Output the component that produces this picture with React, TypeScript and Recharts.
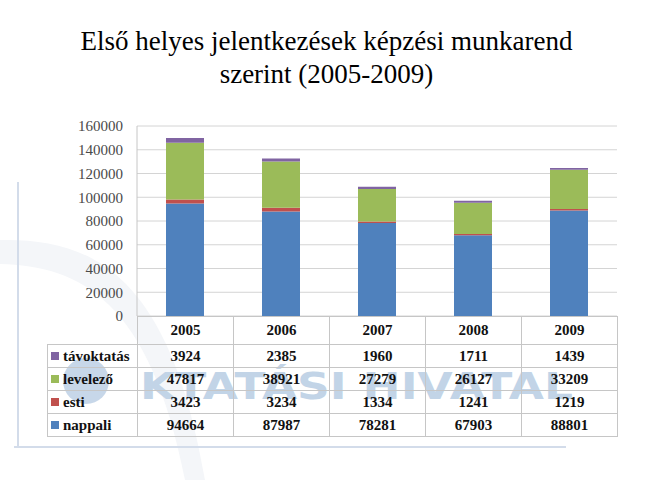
import { BarChart, Bar, XAxis, YAxis, CartesianGrid } from "recharts";

const years = ["2005", "2006", "2007", "2008", "2009"];
const nappali = [94664, 87987, 78281, 67903, 88801];
const esti = [3423, 3234, 1334, 1241, 1219];
const levelezo = [47817, 38921, 27279, 26127, 33209];
const tavoktatas = [3924, 2385, 1960, 1711, 1439];
const yTicks = [0, 20000, 40000, 60000, 80000, 100000, 120000, 140000, 160000];

const series = [
  { key: "nappali", label: "nappali", color: "#4f81bd", values: nappali },
  { key: "esti", label: "esti", color: "#c0504d", values: esti },
  { key: "levelezo", label: "levelező", color: "#9bbb59", values: levelezo },
  { key: "tavoktatas", label: "távoktatás", color: "#8064a2", values: tavoktatas },
];

const data = years.map((y, i) => ({
  year: y,
  nappali: nappali[i],
  esti: esti[i],
  levelezo: levelezo[i],
  tavoktatas: tavoktatas[i],
}));

const serif = "Liberation Serif";
const line = "1px solid #c6c6c6";

function DataTable() {
  const rows = [...series].reverse();
  const cell = { border: line, padding: 0, textAlign: "center" as const, width: 95, fontWeight: 700 };
  return (
    <table
      style={{
        position: "absolute",
        left: 47,
        top: 316,
        borderCollapse: "collapse",
        tableLayout: "fixed",
        fontFamily: serif,
        fontSize: 15,
        color: "#111",
        background: "transparent",
      }}
    >
      <tbody>
        <tr style={{ height: 28 }}>
          <td style={{ width: 89, padding: 0, borderRight: line, borderBottom: line }} />
          {years.map((y) => (
            <td key={y} style={cell}>{y}</td>
          ))}
        </tr>
        {rows.map((s) => (
          <tr key={s.key} style={{ height: 23 }}>
            <td style={{ border: line, padding: "0 0 0 3px", width: 86, fontWeight: 700, whiteSpace: "nowrap" }}>
              <span style={{ display: "inline-block", width: 8, height: 8, background: s.color, marginRight: 4, verticalAlign: 1 }} />
              {s.label}
            </td>
            {s.values.map((v, i) => (
              <td key={i} style={cell}>{v}</td>
            ))}
          </tr>
        ))}
      </tbody>
    </table>
  );
}

function Backdrop() {
  return (
    <svg width={653} height={492} style={{ position: "absolute", left: 0, top: 0 }}>
      <path d="M0 240 C 90 238, 170 272, 205 480 L 185 480 C 150 300, 80 266, 0 264 Z" fill="#f4f6f9" />
      <line x1={18} y1={182} x2={18} y2={447} stroke="#d3dcea" strokeWidth={2} />
      <line x1={14} y1={447} x2={566} y2={447} stroke="#d3dcea" strokeWidth={2} />
      <circle cx={86} cy={381} r={23} fill="#c7d7e9" />
      <text
        x={140}
        y={399}
        textLength={433}
        lengthAdjust="spacingAndGlyphs"
        fontFamily="DejaVu Sans"
        fontWeight={700}
        fontSize={38}
        fill="#c2d4e7"
      >
        KTATÁSI HIVATAL
      </text>
    </svg>
  );
}

export default function App() {
  return (
    <div style={{ position: "absolute", left: 0, top: 0, width: 653, height: 492, background: "#fff", overflow: "hidden" }}>
      <Backdrop />
      <div
        style={{
          position: "absolute",
          left: 0,
          top: 25,
          width: 653,
          textAlign: "center",
          fontFamily: serif,
          fontSize: 27,
          lineHeight: "33px",
          color: "#000",
        }}
      >
        Első helyes jelentkezések képzési munkarend
        <br />
        szerint (2005-2009)
      </div>
      <div style={{ position: "absolute", left: 0, top: 0 }}>
        <BarChart width={653} height={492} data={data} margin={{ top: 126, right: 36, bottom: 176, left: 0 }}>
          <CartesianGrid vertical={false} stroke="#d4d4d4" />
          <XAxis dataKey="year" hide />
          <YAxis
            width={137}
            domain={[0, 160000]}
            ticks={yTicks}
            interval={0}
            tickLine={false}
            tickSize={0}
            tickMargin={14}
            axisLine={{ stroke: "#c6c6c6" }}
            tick={{ fill: "#4a4a4a", fontSize: 15, fontFamily: serif }}
          />
          {series.map((s) => (
            <Bar key={s.key} dataKey={s.key} stackId="a" fill={s.color} barSize={38} isAnimationActive={false} />
          ))}
        </BarChart>
      </div>
      <DataTable />
    </div>
  );
}
